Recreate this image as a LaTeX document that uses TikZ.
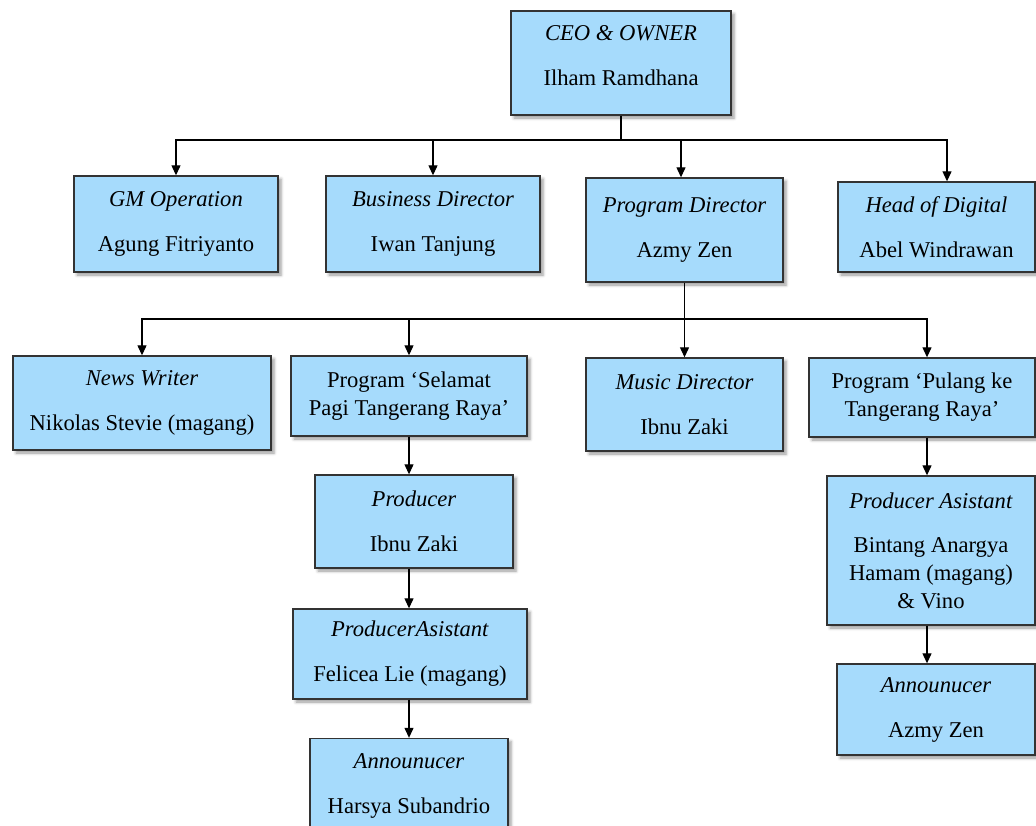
\documentclass[tikz,border=0pt]{standalone}
\usepackage{fontspec}
\setmainfont{Liberation Serif}
\usepackage{tikz}
\usetikzlibrary{arrows.meta,shadows,shadows.blur,calc}
\definecolor{unitblue}{RGB}{166,219,252}
\tikzset{
    unit/.style={draw=black!80, line width=0.7pt, fill=unitblue, align=center, inner sep=2pt,
        font=\fontsize{11.3}{14}\selectfont,
        blur shadow={shadow xshift=1.5pt, shadow yshift=-1.5pt, shadow blur radius=1.5pt, shadow opacity=40}},
    report/.style={-{Triangle[length=5pt, width=4.5pt]}, line width=0.6pt, black}
}

\begin{document}
\begin{tikzpicture}[x=0.5pt, y=-0.5pt]
                    \useasboundingbox (0,0) rectangle (1036,825);
                    \node[unit, minimum width=110pt, minimum height=52pt] (ceo) at (621,63) {\textit{CEO \& OWNER}\\[8.5pt]Ilham Ramdhana\\[-6pt]\mbox{}};
                    \node[unit, minimum width=102pt, minimum height=48pt] (gm) at (176,224) {\textit{GM Operation}\\[8.5pt]Agung Fitriyanto};
                    \node[unit, minimum width=107pt, minimum height=48pt] (bd) at (433,224) {\textit{Business Director}\\[8.5pt]Iwan Tanjung};
                    \node[unit, minimum width=98.5pt, minimum height=52pt] (pd) at (684.5,230) {\textit{Program Director}\\[8.5pt]Azmy Zen};
                    \node[unit, minimum width=98.5pt, minimum height=45pt] (hod) at (936.5,227) {\textit{Head of Digital}\\[8.5pt]Abel Windrawan};
                    \node[unit, minimum width=129pt, minimum height=47pt] (nw) at (142,403) {\textit{News Writer}\\[8.5pt]Nikolas Stevie (magang)};
                    \node[unit, minimum width=118pt, minimum height=40pt] (sel) at (409,396) {Program ‘Selamat\\Pagi Tangerang Raya’};
                    \node[unit, minimum width=98.5pt, minimum height=46.5pt] (md) at (684.5,404.5) {\textit{Music Director}\\[8.5pt]Ibnu Zaki};
                    \node[unit, minimum width=113pt, minimum height=39.5pt] (pul) at (922,397.5) {Program ‘Pulang ke\\Tangerang Raya’};
                    \node[unit, minimum width=99pt, minimum height=46.5pt] (prod) at (414,521.5) {\textit{Producer}\\[8.5pt]Ibnu Zaki};
                    \node[unit, minimum width=117pt, minimum height=45pt] (pal) at (410,654) {\textit{ProducerAsistant}\\[8.5pt]Felicea Lie (magang)};
                    \node[unit, minimum width=99pt, minimum height=47.5pt] (anl) at (409,786) {\textit{Announucer}\\[8.5pt]Harsya Subandrio};
                    \node[unit, minimum width=104pt, minimum height=74.5pt] (par) at (931,550.5) {\textit{Producer Asistant}\\[8pt]Bintang Anargya\\Hamam (magang)\\\& Vino};
                    \node[unit, minimum width=99pt, minimum height=45.5pt] (anr) at (936,709.5) {\textit{Announucer}\\[8.5pt]Azmy Zen};

                    \coordinate (bus1) at (0,140);
                    \coordinate (bus2) at (0,319);
                    \coordinate (rchain) at (927,0);

                    \draw[line width=0.6pt] (ceo.south) -- (ceo.south |- bus1);
                    \draw[report] (ceo.south |- bus1) -| (gm.north);
                    \draw[report] (ceo.south |- bus1) -| (bd.north);
                    \draw[report] (ceo.south |- bus1) -| ([xshift=-1.75pt]pd.north);
                    \draw[report] (ceo.south |- bus1) -| ([xshift=5.25pt]hod.north);

                    \draw[report] (pd.south) -- (md.north);
                    \draw[report] (pd.south |- bus2) -| (nw.north);
                    \draw[report] (pd.south |- bus2) -| (sel.north);
                    \draw[report] (pd.south |- bus2) -| (rchain |- pul.north);

                    \draw[report] (sel.south) -- (sel.south |- prod.north);
                    \draw[report] (sel.south |- prod.south) -- (sel.south |- pal.north);
                    \draw[report] (sel.south |- pal.south) -- (sel.south |- anl.north);
                    \draw[report] (rchain |- pul.south) -- (rchain |- par.north);
                    \draw[report] (rchain |- par.south) -- (rchain |- anr.north);
                \end{tikzpicture}
\end{document}
